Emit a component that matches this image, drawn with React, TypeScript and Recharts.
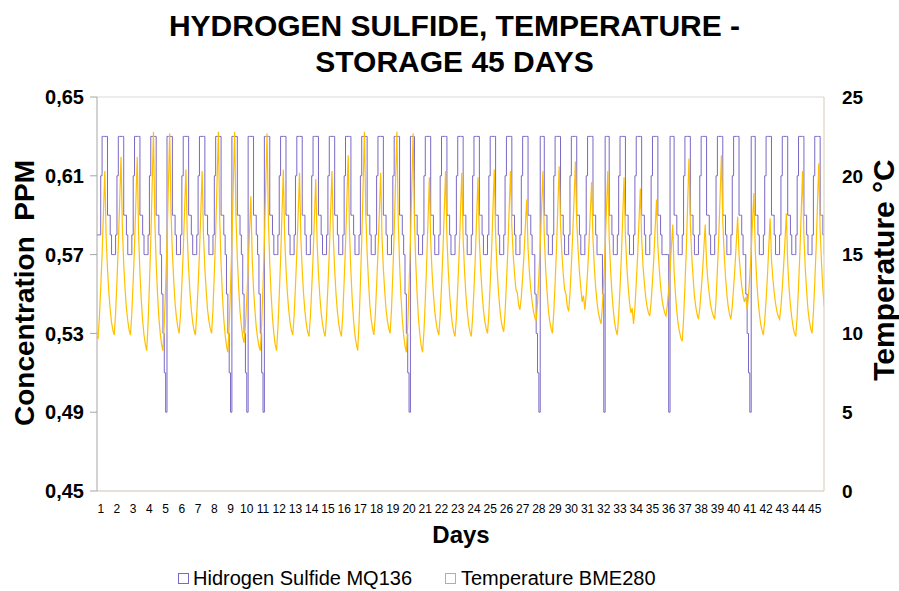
import React from 'react';
import { LineChart, Line, XAxis, YAxis, ReferenceLine } from 'recharts';

// readings every 2 hours (12 per day), first one at day 0.75
const START_DAY = 0.75;
const PER_DAY = 12;

const dayTicks = [
  1, 2, 3, 4, 5, 6, 7, 8, 9, 10, 11, 12, 13, 14, 15, 16, 17, 18, 19, 20, 21, 22, 23,
  24, 25, 26, 27, 28, 29, 30, 31, 32, 33, 34, 35, 36, 37, 38, 39, 40, 41, 42, 43, 44, 45,
];
const ppmTicks = [0.45, 0.49, 0.53, 0.57, 0.61, 0.65];
const tempTicks = [0, 5, 10, 15, 20, 25];

const h2sPpm = [
  0.58, 0.58, 0.58,
  0.61, 0.63, 0.63, 0.63, 0.63, 0.59, 0.59, 0.58, 0.57, 0.57, 0.57, 0.58,
  0.61, 0.63, 0.63, 0.63, 0.63, 0.59, 0.59, 0.58, 0.57, 0.57, 0.57, 0.58,
  0.61, 0.63, 0.63, 0.63, 0.63, 0.59, 0.59, 0.58, 0.57, 0.57, 0.57, 0.58,
  0.61, 0.63, 0.63, 0.63, 0.63, 0.59, 0.59, 0.58, 0.57, 0.55, 0.53, 0.51,
  0.49, 0.63, 0.63, 0.63, 0.63, 0.59, 0.59, 0.58, 0.57, 0.57, 0.57, 0.58,
  0.61, 0.63, 0.63, 0.63, 0.63, 0.59, 0.59, 0.58, 0.57, 0.57, 0.57, 0.58,
  0.61, 0.63, 0.63, 0.63, 0.63, 0.59, 0.59, 0.58, 0.57, 0.57, 0.57, 0.58,
  0.61, 0.63, 0.63, 0.63, 0.63, 0.59, 0.59, 0.58, 0.57, 0.55, 0.53, 0.51,
  0.49, 0.63, 0.63, 0.63, 0.63, 0.59, 0.59, 0.58, 0.57, 0.55, 0.53, 0.51,
  0.49, 0.63, 0.63, 0.63, 0.63, 0.59, 0.59, 0.58, 0.57, 0.55, 0.53, 0.51,
  0.49, 0.63, 0.63, 0.63, 0.63, 0.59, 0.59, 0.58, 0.57, 0.57, 0.57, 0.58,
  0.61, 0.63, 0.63, 0.63, 0.63, 0.59, 0.59, 0.58, 0.57, 0.57, 0.57, 0.58,
  0.61, 0.63, 0.63, 0.63, 0.63, 0.59, 0.59, 0.58, 0.57, 0.57, 0.57, 0.58,
  0.61, 0.63, 0.63, 0.63, 0.63, 0.59, 0.59, 0.58, 0.57, 0.57, 0.57, 0.58,
  0.61, 0.63, 0.63, 0.63, 0.63, 0.59, 0.59, 0.58, 0.57, 0.57, 0.57, 0.58,
  0.61, 0.63, 0.63, 0.63, 0.63, 0.59, 0.59, 0.58, 0.57, 0.57, 0.57, 0.58,
  0.61, 0.63, 0.63, 0.63, 0.63, 0.59, 0.59, 0.58, 0.57, 0.57, 0.57, 0.58,
  0.61, 0.63, 0.63, 0.63, 0.63, 0.59, 0.59, 0.58, 0.57, 0.57, 0.57, 0.58,
  0.61, 0.63, 0.63, 0.63, 0.63, 0.59, 0.59, 0.58, 0.57, 0.55, 0.53, 0.51,
  0.49, 0.63, 0.63, 0.63, 0.59, 0.59, 0.58, 0.57, 0.57, 0.57, 0.58, 0.61,
  0.63, 0.63, 0.63, 0.63, 0.59, 0.59, 0.58, 0.57, 0.57, 0.57, 0.58, 0.61,
  0.63, 0.63, 0.63, 0.63, 0.59, 0.59, 0.58, 0.57, 0.57, 0.57, 0.58, 0.61,
  0.63, 0.63, 0.63, 0.63, 0.59, 0.59, 0.58, 0.57, 0.57, 0.57, 0.58, 0.61,
  0.63, 0.63, 0.63, 0.63, 0.59, 0.59, 0.58, 0.57, 0.57, 0.57, 0.58, 0.61,
  0.63, 0.63, 0.63, 0.63, 0.59, 0.59, 0.58, 0.57, 0.57, 0.57, 0.58, 0.61,
  0.63, 0.63, 0.63, 0.63, 0.59, 0.59, 0.58, 0.57, 0.57, 0.57, 0.58, 0.61,
  0.63, 0.63, 0.63, 0.63, 0.59, 0.59, 0.58, 0.57, 0.57, 0.55, 0.53, 0.51,
  0.49, 0.63, 0.63, 0.63, 0.59, 0.59, 0.58, 0.57, 0.57, 0.57, 0.58, 0.61,
  0.63, 0.63, 0.63, 0.63, 0.59, 0.59, 0.58, 0.57, 0.57, 0.57, 0.58, 0.61,
  0.63, 0.63, 0.63, 0.63, 0.59, 0.59, 0.58, 0.57, 0.57, 0.57, 0.58, 0.61,
  0.63, 0.63, 0.63, 0.63, 0.59, 0.59, 0.58, 0.57, 0.57, 0.57, 0.57, 0.55,
  0.49, 0.63, 0.63, 0.63, 0.59, 0.59, 0.58, 0.57, 0.57, 0.57, 0.58, 0.61,
  0.63, 0.63, 0.63, 0.63, 0.59, 0.59, 0.58, 0.57, 0.57, 0.57, 0.58, 0.61,
  0.63, 0.63, 0.63, 0.63, 0.59, 0.59, 0.58, 0.57, 0.57, 0.57, 0.58, 0.61,
  0.63, 0.63, 0.63, 0.63, 0.59, 0.59, 0.58, 0.57, 0.57, 0.57, 0.57, 0.57,
  0.49, 0.63, 0.63, 0.63, 0.59, 0.59, 0.58, 0.57, 0.57, 0.57, 0.58, 0.61,
  0.63, 0.63, 0.63, 0.63, 0.59, 0.59, 0.58, 0.57, 0.57, 0.57, 0.58, 0.61,
  0.63, 0.63, 0.63, 0.63, 0.59, 0.59, 0.58, 0.57, 0.57, 0.57, 0.58, 0.61,
  0.63, 0.63, 0.63, 0.63, 0.59, 0.59, 0.58, 0.57, 0.57, 0.57, 0.58, 0.61,
  0.63, 0.63, 0.63, 0.63, 0.59, 0.59, 0.58, 0.57, 0.57, 0.55, 0.53, 0.51,
  0.49, 0.63, 0.63, 0.63, 0.59, 0.59, 0.58, 0.57, 0.57, 0.57, 0.58, 0.61,
  0.63, 0.63, 0.63, 0.63, 0.59, 0.59, 0.58, 0.57, 0.57, 0.57, 0.58, 0.61,
  0.63, 0.63, 0.63, 0.63, 0.59, 0.59, 0.58, 0.57, 0.57, 0.57, 0.58, 0.61,
  0.63, 0.63, 0.63, 0.63, 0.59, 0.59, 0.58, 0.57, 0.57, 0.57, 0.58, 0.61,
  0.63, 0.63, 0.63, 0.63, 0.59, 0.59, 0.58, 0.57,
];

const temperatureC = [
  9.8, 9.7, 11.0,
  12.9, 15.0, 17.6, 20.3, 16.1, 14.1, 12.6, 11.5, 10.7, 10.2, 9.9, 11.3,
  13.3, 15.6, 18.4, 21.2, 16.7, 14.4, 12.8, 11.6, 10.8, 10.2, 9.9, 11.3,
  13.3, 15.6, 18.4, 21.2, 16.3, 13.8, 12.1, 10.8, 9.9, 9.3, 8.9, 10.6,
  13.1, 15.9, 19.3, 22.8, 17.2, 14.5, 12.5, 11.0, 10.0, 9.3, 8.9, 10.6,
  13.0, 15.8, 19.3, 22.7, 17.6, 15.1, 13.3, 11.9, 11.0, 10.4, 10.0, 11.2,
  13.1, 15.2, 17.8, 20.4, 16.2, 14.1, 12.6, 11.5, 10.7, 10.2, 9.9, 11.2,
  13.0, 15.1, 17.7, 20.3, 16.2, 14.1, 12.7, 11.5, 10.8, 10.3, 10.0, 11.5,
  13.8, 16.4, 19.6, 22.8, 17.2, 14.4, 12.4, 10.9, 9.9, 9.2, 8.8, 10.5,
  13.0, 15.8, 19.3, 22.8, 17.4, 14.8, 12.9, 11.4, 10.5, 9.8, 9.4, 10.5,
  12.2, 14.1, 16.4, 18.7, 14.8, 12.8, 11.5, 10.4, 9.7, 9.2, 8.9, 10.6,
  13.0, 15.8, 19.3, 22.7, 17.2, 14.4, 12.5, 11.0, 10.0, 9.3, 8.9, 10.3,
  12.4, 14.7, 17.5, 20.4, 16.2, 14.1, 12.6, 11.5, 10.7, 10.2, 9.9, 11.1,
  13.0, 15.1, 17.6, 20.2, 16.0, 14.0, 12.5, 11.4, 10.6, 10.1, 9.8, 11.0,
  12.8, 14.8, 17.3, 19.8, 15.8, 13.8, 12.4, 11.3, 10.6, 10.1, 9.8, 11.1,
  13.0, 15.1, 17.7, 20.3, 16.1, 14.0, 12.5, 11.4, 10.6, 10.1, 9.8, 11.2,
  13.3, 15.6, 18.4, 21.3, 16.3, 13.9, 12.1, 10.8, 9.9, 9.3, 8.9, 10.6,
  13.1, 15.9, 19.3, 22.8, 17.6, 15.1, 13.3, 11.8, 10.9, 10.3, 9.9, 11.1,
  13.0, 15.1, 17.6, 20.2, 16.1, 14.1, 12.7, 11.5, 10.8, 10.3, 10.0, 11.5,
  13.8, 16.4, 19.6, 22.8, 17.2, 14.4, 12.4, 10.9, 9.9, 9.2, 8.8, 10.5,
  13.0, 15.8, 19.2, 22.7, 17.1, 14.4, 12.4, 10.9, 9.9, 9.2, 8.8, 10.1,
  12.1, 14.4, 17.1, 19.9, 15.9, 13.9, 12.5, 11.4, 10.7, 10.2, 9.9, 11.1,
  13.0, 15.1, 17.7, 20.3, 16.1, 14.0, 12.5, 11.4, 10.6, 10.1, 9.8, 11.0,
  12.9, 15.0, 17.6, 20.2, 16.0, 14.0, 12.5, 11.4, 10.6, 10.1, 9.8, 11.0,
  12.8, 14.9, 17.4, 19.9, 15.9, 14.0, 12.6, 11.5, 10.8, 10.3, 10.0, 11.2,
  13.1, 15.2, 17.8, 20.4, 16.3, 14.2, 12.8, 11.7, 10.9, 10.4, 10.1, 11.3,
  13.2, 15.2, 17.8, 20.3, 16.8, 15.0, 13.8, 12.8, 12.6, 11.8, 11.5, 12.3,
  13.6, 15.0, 16.8, 18.5, 15.4, 13.9, 12.8, 12.0, 11.4, 11.0, 10.8, 11.9,
  13.7, 15.6, 17.9, 20.3, 16.2, 14.1, 12.7, 11.5, 10.8, 10.3, 10.0, 11.3,
  13.2, 15.3, 18.0, 20.6, 16.9, 15.1, 13.8, 12.8, 12.5, 11.7, 11.4, 12.5,
  14.3, 16.2, 18.5, 20.9, 17.1, 15.3, 13.9, 12.9, 12.0, 12.4, 11.5, 12.5,
  13.9, 15.6, 17.6, 19.6, 16.0, 14.2, 12.9, 12.0, 11.3, 10.9, 10.6, 11.8,
  13.5, 15.5, 17.9, 20.3, 16.1, 14.1, 12.6, 11.5, 10.7, 10.2, 9.9, 11.1,
  12.9, 14.9, 17.4, 19.9, 16.2, 14.3, 13.0, 12.0, 11.3, 11.6, 10.6, 11.6,
  13.2, 14.9, 17.1, 19.2, 16.0, 14.3, 13.2, 12.3, 11.7, 11.3, 11.1, 12.0,
  13.3, 14.8, 16.7, 18.5, 15.5, 14.1, 13.0, 12.2, 11.7, 11.3, 11.1, 11.8,
  12.8, 14.0, 15.5, 16.9, 13.9, 12.5, 11.4, 10.6, 10.1, 9.7, 9.5, 10.9,
  13.0, 15.3, 18.2, 21.1, 17.0, 15.0, 13.6, 12.4, 11.7, 11.2, 10.9, 11.6,
  12.7, 13.9, 15.4, 16.9, 14.5, 13.3, 12.5, 11.8, 11.4, 11.1, 10.9, 12.1,
  14.0, 16.1, 18.7, 21.3, 17.1, 15.1, 13.6, 12.5, 11.7, 11.2, 10.9, 11.7,
  12.9, 14.2, 15.8, 17.4, 15.0, 13.9, 13.0, 12.4, 12.0, 12.3, 11.5, 12.4,
  13.7, 15.2, 17.1, 18.9, 15.3, 13.5, 12.2, 11.3, 10.6, 10.2, 9.9, 10.8,
  12.1, 13.6, 15.5, 17.3, 14.7, 13.5, 12.6, 11.9, 11.4, 11.1, 10.9, 11.7,
  12.9, 14.3, 15.9, 17.6, 14.5, 12.9, 11.8, 11.0, 10.4, 10.0, 9.8, 11.1,
  13.0, 15.1, 17.7, 20.3, 16.2, 14.1, 12.7, 11.5, 10.8, 10.3, 10.0, 11.3,
  13.2, 15.4, 18.1, 20.8, 16.5, 14.5, 12.8, 11.7,
];

const rows = h2sPpm.map((v, i) => ({
  t: START_DAY + i / PER_DAY,
  h2s: v,
  temp: temperatureC[i],
}));

const FONT = '"Liberation Sans", Arial, Helvetica, sans-serif';
const H2S_COLOR = '#7a68c6';
const TEMP_COLOR = '#ffc000';

export default function App() {
  return (
    <div style={{ position: 'absolute', left: 0, top: 0, width: 899, height: 591, overflow: 'hidden', background: '#fff', fontFamily: FONT, color: '#000' }}>
      <LineChart width={899} height={591} data={rows} margin={{ top: 97, right: 0, bottom: 0, left: 0 }}>
        <XAxis
          dataKey="t"
          type="number"
          domain={[0.77, 45.57]}
          ticks={dayTicks}
          interval={0}
          allowDataOverflow
          height={100}
          tickLine={false}
          tickMargin={7}
          stroke="#cbc3b1"
          tick={{ fill: '#000', fontSize: 12, fontFamily: FONT }}
        />
        <YAxis
          yAxisId="left"
          width={97}
          domain={[0.45, 0.65]}
          ticks={ppmTicks}
          allowDataOverflow
          tickSize={7}
          tickMargin={6}
          stroke="#a6a6a6"
          tickFormatter={(v) => v.toFixed(2).replace('.', ',')}
          tick={{ fill: '#000', fontSize: 20, fontWeight: 'bold', fontFamily: FONT }}
        />
        <YAxis
          yAxisId="right"
          orientation="right"
          width={75}
          domain={[0, 25]}
          ticks={tempTicks}
          allowDataOverflow
          tickLine={false}
          tickSize={0}
          tickMargin={18}
          stroke="#d6ccb4"
          tick={{ fill: '#000', fontSize: 19, fontWeight: 'bold', fontFamily: FONT, textAnchor: 'start' }}
        />
        <ReferenceLine yAxisId="left" y={0.65} stroke="#d9d9d9" />
        <Line
          yAxisId="left"
          type="stepAfter"
          dataKey="h2s"
          stroke={H2S_COLOR}
          strokeWidth={1}
          dot={false}
          activeDot={false}
          isAnimationActive={false}
        />
        <Line
          yAxisId="right"
          type="linear"
          dataKey="temp"
          stroke={TEMP_COLOR}
          strokeWidth={1.2}
          dot={false}
          activeDot={false}
          isAnimationActive={false}
        />
      </LineChart>

      <div style={{ position: 'absolute', left: 5, top: 8, width: 899, textAlign: 'center', fontSize: 30, fontWeight: 'bold', lineHeight: '36px' }}>
        HYDROGEN SULFIDE, TEMPERATURE -<br />STORAGE 45 DAYS
      </div>

      <div style={{ position: 'absolute', left: 25 - 140, top: 293 - 15, width: 280, height: 30, lineHeight: '30px', textAlign: 'center', fontSize: 28, fontWeight: 'bold', whiteSpace: 'pre', transform: 'rotate(-90deg)' }}>
        {'Concentration  PPM'}
      </div>

      <div style={{ position: 'absolute', left: 884 - 125, top: 270 - 14, width: 250, height: 28, lineHeight: '28px', textAlign: 'center', fontSize: 30, fontWeight: 'bold', whiteSpace: 'nowrap', transform: 'rotate(-90deg)' }}>
        Temperature °C
      </div>

      <div style={{ position: 'absolute', left: 361, top: 523, width: 200, lineHeight: '24px', textAlign: 'center', fontSize: 24, fontWeight: 'bold' }}>
        Days
      </div>

      <div style={{ position: 'absolute', left: 178, top: 573, width: 9, height: 9, border: `1px solid ${H2S_COLOR}` }} />
      <div style={{ position: 'absolute', left: 193, top: 568, lineHeight: '20px', fontSize: 20 }}>Hidrogen Sulfide MQ136</div>
      <div style={{ position: 'absolute', left: 445, top: 573, width: 9, height: 9, border: '1px solid #eeb000' }} />
      <div style={{ position: 'absolute', left: 461, top: 568, lineHeight: '20px', fontSize: 20 }}>Temperature BME280</div>
    </div>
  );
}
